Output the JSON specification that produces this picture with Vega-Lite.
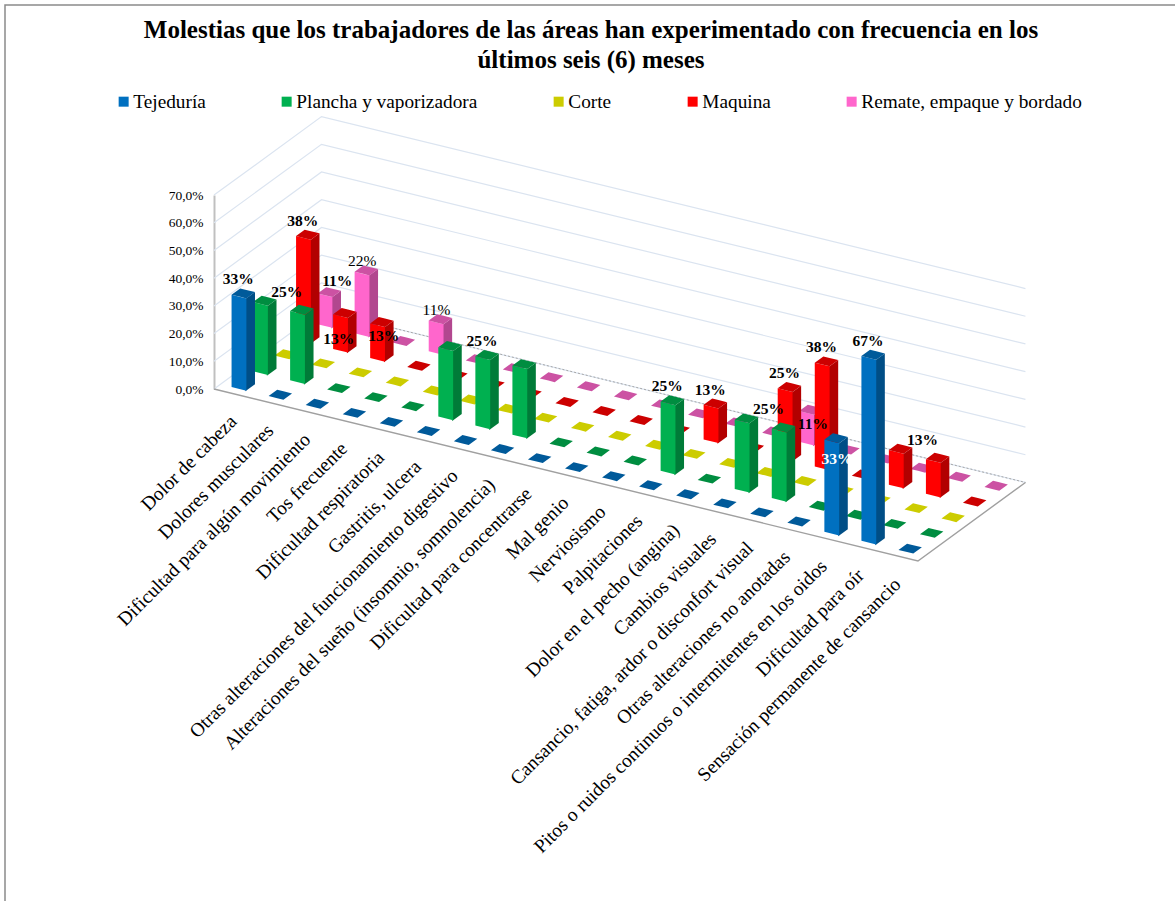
{
"$schema":"https://vega.github.io/schema/vega-lite/v6.json",
"width":1172,"height":898,"autosize":"none","padding":{"left":5,"top":5,"right":0,"bottom":0},
"background":"white",
"view":{"stroke":"#8a8a8a","strokeWidth":1.5,"fill":"white"},
"title":{"text":["Molestias que los trabajadores de las áreas han experimentado con frecuencia en los","últimos seis (6) meses"],"font":"Liberation Serif","fontSize":25,"fontWeight":"bold","color":"black","anchor":"middle","frame":"group","orient":"top","offset":0,"dy":93,"lineHeight":30,"baseline":"bottom"},
"datasets":{
"muro":[{"v":0},{"v":10},{"v":20},{"v":30},{"v":40},{"v":50},{"v":60},{"v":70}],
"filas":[
{"categoria":"Dolor de cabeza","n":1,"serie":"Remate, empaque y bordado","s":4,"v":11.1,"etiqueta":"11%"},
{"categoria":"Dolores musculares","n":2,"serie":"Remate, empaque y bordado","s":4,"v":22.2,"etiqueta":"22%"},
{"categoria":"Dificultad para algún movimiento","n":3,"serie":"Remate, empaque y bordado","s":4,"v":0},
{"categoria":"Tos frecuente","n":4,"serie":"Remate, empaque y bordado","s":4,"v":11.1,"etiqueta":"11%"},
{"categoria":"Dificultad respiratoria","n":5,"serie":"Remate, empaque y bordado","s":4,"v":0},
{"categoria":"Gastritis, ulcera","n":6,"serie":"Remate, empaque y bordado","s":4,"v":0},
{"categoria":"Otras alteraciones del funcionamiento digestivo","n":7,"serie":"Remate, empaque y bordado","s":4,"v":0},
{"categoria":"Alteraciones del sueño (insomnio, somnolencia)","n":8,"serie":"Remate, empaque y bordado","s":4,"v":0},
{"categoria":"Dificultad para concentrarse","n":9,"serie":"Remate, empaque y bordado","s":4,"v":0},
{"categoria":"Mal genio","n":10,"serie":"Remate, empaque y bordado","s":4,"v":0},
{"categoria":"Nerviosismo","n":11,"serie":"Remate, empaque y bordado","s":4,"v":0},
{"categoria":"Palpitaciones","n":12,"serie":"Remate, empaque y bordado","s":4,"v":0},
{"categoria":"Dolor en el pecho (angina)","n":13,"serie":"Remate, empaque y bordado","s":4,"v":0},
{"categoria":"Cambios visuales","n":14,"serie":"Remate, empaque y bordado","s":4,"v":11.1,"etiqueta":"11%"},
{"categoria":"Cansancio, fatiga, ardor o disconfort visual","n":15,"serie":"Remate, empaque y bordado","s":4,"v":0},
{"categoria":"Otras alteraciones no anotadas","n":16,"serie":"Remate, empaque y bordado","s":4,"v":0},
{"categoria":"Pitos o ruidos continuos o intermitentes en los oidos","n":17,"serie":"Remate, empaque y bordado","s":4,"v":0},
{"categoria":"Dificultad para oír","n":18,"serie":"Remate, empaque y bordado","s":4,"v":0},
{"categoria":"Sensación permanente de cansancio","n":19,"serie":"Remate, empaque y bordado","s":4,"v":0},
{"categoria":"Dolor de cabeza","n":1,"serie":"Maquina","s":3,"v":37.5,"etiqueta":"38%"},
{"categoria":"Dolores musculares","n":2,"serie":"Maquina","s":3,"v":12.5,"etiqueta":"13%"},
{"categoria":"Dificultad para algún movimiento","n":3,"serie":"Maquina","s":3,"v":12.5,"etiqueta":"13%"},
{"categoria":"Tos frecuente","n":4,"serie":"Maquina","s":3,"v":0},
{"categoria":"Dificultad respiratoria","n":5,"serie":"Maquina","s":3,"v":0},
{"categoria":"Gastritis, ulcera","n":6,"serie":"Maquina","s":3,"v":0},
{"categoria":"Otras alteraciones del funcionamiento digestivo","n":7,"serie":"Maquina","s":3,"v":0},
{"categoria":"Alteraciones del sueño (insomnio, somnolencia)","n":8,"serie":"Maquina","s":3,"v":0},
{"categoria":"Dificultad para concentrarse","n":9,"serie":"Maquina","s":3,"v":0},
{"categoria":"Mal genio","n":10,"serie":"Maquina","s":3,"v":0},
{"categoria":"Nerviosismo","n":11,"serie":"Maquina","s":3,"v":0},
{"categoria":"Palpitaciones","n":12,"serie":"Maquina","s":3,"v":12.5,"etiqueta":"13%"},
{"categoria":"Dolor en el pecho (angina)","n":13,"serie":"Maquina","s":3,"v":0},
{"categoria":"Cambios visuales","n":14,"serie":"Maquina","s":3,"v":25,"etiqueta":"25%"},
{"categoria":"Cansancio, fatiga, ardor o disconfort visual","n":15,"serie":"Maquina","s":3,"v":37.5,"etiqueta":"38%"},
{"categoria":"Otras alteraciones no anotadas","n":16,"serie":"Maquina","s":3,"v":0},
{"categoria":"Pitos o ruidos continuos o intermitentes en los oidos","n":17,"serie":"Maquina","s":3,"v":12.5},
{"categoria":"Dificultad para oír","n":18,"serie":"Maquina","s":3,"v":12.5,"etiqueta":"13%"},
{"categoria":"Sensación permanente de cansancio","n":19,"serie":"Maquina","s":3,"v":0},
{"categoria":"Dolor de cabeza","n":1,"serie":"Corte","s":2,"v":0},
{"categoria":"Dolores musculares","n":2,"serie":"Corte","s":2,"v":0},
{"categoria":"Dificultad para algún movimiento","n":3,"serie":"Corte","s":2,"v":0},
{"categoria":"Tos frecuente","n":4,"serie":"Corte","s":2,"v":0},
{"categoria":"Dificultad respiratoria","n":5,"serie":"Corte","s":2,"v":0},
{"categoria":"Gastritis, ulcera","n":6,"serie":"Corte","s":2,"v":0},
{"categoria":"Otras alteraciones del funcionamiento digestivo","n":7,"serie":"Corte","s":2,"v":0},
{"categoria":"Alteraciones del sueño (insomnio, somnolencia)","n":8,"serie":"Corte","s":2,"v":0},
{"categoria":"Dificultad para concentrarse","n":9,"serie":"Corte","s":2,"v":0},
{"categoria":"Mal genio","n":10,"serie":"Corte","s":2,"v":0},
{"categoria":"Nerviosismo","n":11,"serie":"Corte","s":2,"v":0},
{"categoria":"Palpitaciones","n":12,"serie":"Corte","s":2,"v":0},
{"categoria":"Dolor en el pecho (angina)","n":13,"serie":"Corte","s":2,"v":0},
{"categoria":"Cambios visuales","n":14,"serie":"Corte","s":2,"v":0},
{"categoria":"Cansancio, fatiga, ardor o disconfort visual","n":15,"serie":"Corte","s":2,"v":0},
{"categoria":"Otras alteraciones no anotadas","n":16,"serie":"Corte","s":2,"v":0},
{"categoria":"Pitos o ruidos continuos o intermitentes en los oidos","n":17,"serie":"Corte","s":2,"v":0},
{"categoria":"Dificultad para oír","n":18,"serie":"Corte","s":2,"v":0},
{"categoria":"Sensación permanente de cansancio","n":19,"serie":"Corte","s":2,"v":0},
{"categoria":"Dolor de cabeza","n":1,"serie":"Plancha y vaporizadora","s":1,"v":25},
{"categoria":"Dolores musculares","n":2,"serie":"Plancha y vaporizadora","s":1,"v":25,"etiqueta":"25%"},
{"categoria":"Dificultad para algún movimiento","n":3,"serie":"Plancha y vaporizadora","s":1,"v":0},
{"categoria":"Tos frecuente","n":4,"serie":"Plancha y vaporizadora","s":1,"v":0},
{"categoria":"Dificultad respiratoria","n":5,"serie":"Plancha y vaporizadora","s":1,"v":0},
{"categoria":"Gastritis, ulcera","n":6,"serie":"Plancha y vaporizadora","s":1,"v":25},
{"categoria":"Otras alteraciones del funcionamiento digestivo","n":7,"serie":"Plancha y vaporizadora","s":1,"v":25,"etiqueta":"25%"},
{"categoria":"Alteraciones del sueño (insomnio, somnolencia)","n":8,"serie":"Plancha y vaporizadora","s":1,"v":25},
{"categoria":"Dificultad para concentrarse","n":9,"serie":"Plancha y vaporizadora","s":1,"v":0},
{"categoria":"Mal genio","n":10,"serie":"Plancha y vaporizadora","s":1,"v":0},
{"categoria":"Nerviosismo","n":11,"serie":"Plancha y vaporizadora","s":1,"v":0},
{"categoria":"Palpitaciones","n":12,"serie":"Plancha y vaporizadora","s":1,"v":25,"etiqueta":"25%"},
{"categoria":"Dolor en el pecho (angina)","n":13,"serie":"Plancha y vaporizadora","s":1,"v":0},
{"categoria":"Cambios visuales","n":14,"serie":"Plancha y vaporizadora","s":1,"v":25},
{"categoria":"Cansancio, fatiga, ardor o disconfort visual","n":15,"serie":"Plancha y vaporizadora","s":1,"v":25,"etiqueta":"25%"},
{"categoria":"Otras alteraciones no anotadas","n":16,"serie":"Plancha y vaporizadora","s":1,"v":0},
{"categoria":"Pitos o ruidos continuos o intermitentes en los oidos","n":17,"serie":"Plancha y vaporizadora","s":1,"v":0},
{"categoria":"Dificultad para oír","n":18,"serie":"Plancha y vaporizadora","s":1,"v":0},
{"categoria":"Sensación permanente de cansancio","n":19,"serie":"Plancha y vaporizadora","s":1,"v":0},
{"categoria":"Dolor de cabeza","n":1,"serie":"Tejeduría","s":0,"v":33.3,"etiqueta":"33%"},
{"categoria":"Dolores musculares","n":2,"serie":"Tejeduría","s":0,"v":0},
{"categoria":"Dificultad para algún movimiento","n":3,"serie":"Tejeduría","s":0,"v":0},
{"categoria":"Tos frecuente","n":4,"serie":"Tejeduría","s":0,"v":0},
{"categoria":"Dificultad respiratoria","n":5,"serie":"Tejeduría","s":0,"v":0},
{"categoria":"Gastritis, ulcera","n":6,"serie":"Tejeduría","s":0,"v":0},
{"categoria":"Otras alteraciones del funcionamiento digestivo","n":7,"serie":"Tejeduría","s":0,"v":0},
{"categoria":"Alteraciones del sueño (insomnio, somnolencia)","n":8,"serie":"Tejeduría","s":0,"v":0},
{"categoria":"Dificultad para concentrarse","n":9,"serie":"Tejeduría","s":0,"v":0},
{"categoria":"Mal genio","n":10,"serie":"Tejeduría","s":0,"v":0},
{"categoria":"Nerviosismo","n":11,"serie":"Tejeduría","s":0,"v":0},
{"categoria":"Palpitaciones","n":12,"serie":"Tejeduría","s":0,"v":0},
{"categoria":"Dolor en el pecho (angina)","n":13,"serie":"Tejeduría","s":0,"v":0},
{"categoria":"Cambios visuales","n":14,"serie":"Tejeduría","s":0,"v":0},
{"categoria":"Cansancio, fatiga, ardor o disconfort visual","n":15,"serie":"Tejeduría","s":0,"v":0},
{"categoria":"Otras alteraciones no anotadas","n":16,"serie":"Tejeduría","s":0,"v":0},
{"categoria":"Pitos o ruidos continuos o intermitentes en los oidos","n":17,"serie":"Tejeduría","s":0,"v":33.3,"etiqueta":"33%"},
{"categoria":"Dificultad para oír","n":18,"serie":"Tejeduría","s":0,"v":66.7,"etiqueta":"67%"},
{"categoria":"Sensación permanente de cansancio","n":19,"serie":"Tejeduría","s":0,"v":0}
]},
"resolve":{"scale":{"y":"independent"}},
"layer":[
{"layer":[
 {"data":{"name":"muro"},
  "transform":[
   {"calculate":"[[0,0],[0,5],[19,5]]","as":"q"},{"flatten":["q"]},
   {"calculate":"214+37.05*datum.q[0]+21.5*datum.q[1]","as":"px"},
   {"calculate":"389+9.05*datum.q[0]-15.7*datum.q[1]-2.77*datum.v","as":"py"}],
  "mark":{"type":"line","color":"#dbe4f0","strokeWidth":1.2,"interpolate":"linear"},
  "encoding":{"x":{"field":"px","type":"quantitative","scale":{"domain":[5,1177],"nice":false,"zero":false},"axis":null},
   "y":{"field":"py","type":"quantitative","scale":{"domain":[5,903],"reverse":true,"nice":false,"zero":false},"axis":null},
   "detail":{"field":"v"}}},
 {"data":{"name":"muro"},
  "transform":[{"filter":"datum.v==0"},
   {"calculate":"[[0,5],[19,5]]","as":"q"},{"flatten":["q"]},
   {"calculate":"214+37.05*datum.q[0]+21.5*datum.q[1]","as":"px"},
   {"calculate":"389+9.05*datum.q[0]-15.7*datum.q[1]","as":"py"}],
  "mark":{"type":"line","color":"#a8a8a8","strokeWidth":1,"strokeDash":[2,2]},
  "encoding":{"x":{"field":"px","type":"quantitative","scale":{"domain":[5,1177],"nice":false,"zero":false},"axis":null},
   "y":{"field":"py","type":"quantitative","scale":{"domain":[5,903],"reverse":true,"nice":false,"zero":false},"axis":null}}},
 {"data":{"name":"muro"},
  "transform":[{"filter":"datum.v==0"},
   {"calculate":"[[0,0],[19,0],[19,5]]","as":"q"},{"flatten":["q"]},
   {"calculate":"214+37.05*datum.q[0]+21.5*datum.q[1]","as":"px"},
   {"calculate":"389+9.05*datum.q[0]-15.7*datum.q[1]","as":"py"}],
  "mark":{"type":"line","color":"#a0a0a0","strokeWidth":1.4},
  "encoding":{"x":{"field":"px","type":"quantitative","scale":{"domain":[5,1177],"nice":false,"zero":false},"axis":null},
   "y":{"field":"py","type":"quantitative","scale":{"domain":[5,903],"reverse":true,"nice":false,"zero":false},"axis":null}}},
 {"data":{"name":"filas"},
  "transform":[
   {"calculate":"214+37.05*(datum.n-0.7)+21.5*(datum.s+0.3)","as":"xA"},
   {"calculate":"389+9.05*(datum.n-0.7)-15.7*(datum.s+0.3)","as":"yA"},
   {"calculate":"datum.yA-2.77*datum.v","as":"t"},
   {"calculate":"['lado','frente','tapa']","as":"cara"},{"flatten":["cara"]},
   {"filter":"datum.v>0||datum.cara=='tapa'"},
   {"calculate":"datum.cara=='frente'?[[datum.xA,datum.t,datum.yA],[datum.xA+14.82,datum.t+3.62,datum.yA+3.62]]:datum.cara=='lado'?[[datum.xA+13.82,datum.t+4.35,datum.yA+4.35],[datum.xA+23.42,datum.t-2.66,datum.yA-2.66]]:[[datum.xA,datum.t,datum.t],[datum.xA+8.6,datum.t-6.28,datum.t+2.1],[datum.xA+14.82,datum.t-4.76,datum.t+3.62],[datum.xA+23.42,datum.t-2.66,datum.t-2.66]]","as":"pt"},
   {"flatten":["pt"]},
   {"calculate":"datum.pt[0]","as":"px"},{"calculate":"datum.pt[1]","as":"py"},{"calculate":"datum.pt[2]","as":"py2"},
   {"calculate":"datum.cara=='frente'?datum.serie:datum.serie+'|'+datum.cara","as":"tono"},
   {"calculate":"datum.n+'-'+datum.s+'-'+datum.cara","as":"id"}],
  "mark":{"type":"area","interpolate":"linear","opacity":1},
  "encoding":{
   "x":{"field":"px","type":"quantitative","scale":{"domain":[5,1177],"nice":false,"zero":false},"axis":null},
   "y":{"field":"py","type":"quantitative","scale":{"domain":[5,903],"reverse":true,"nice":false,"zero":false},"axis":null},
   "y2":{"field":"py2"},
   "detail":{"field":"id"},
   "color":{"field":"tono","type":"nominal",
    "scale":{"domain":["Tejeduría","Plancha y vaporizadora","Corte","Maquina","Remate, empaque y bordado","Tejeduría|lado","Plancha y vaporizadora|lado","Corte|lado","Maquina|lado","Remate, empaque y bordado|lado","Tejeduría|tapa","Plancha y vaporizadora|tapa","Corte|tapa","Maquina|tapa","Remate, empaque y bordado|tapa"],
     "range":["#0070c0","#00b050","#cccc00","#ff0000","#ff66cc","#004e86","#007b38","#8e8e00","#b20000","#b2478f","#005a9a","#008d40","#cccc00","#cc0000","#cc52a3"]},
    "legend":{"values":["Tejeduría","Plancha y vaporizadora","Corte","Maquina","Remate, empaque y bordado"],"title":null,"orient":"none","legendX":109,"legendY":87,"columns":5,"columnPadding":71,"symbolType":"square","symbolSize":100,"symbolStrokeWidth":0,"symbolOpacity":1,"labelFont":"Liberation Serif","labelFontSize":19.3,"labelColor":"black","labelOffset":0,"labelLimit":400}}}},
 {"data":{"name":"filas"},
  "transform":[
   {"filter":"datum.s==0"},
   {"calculate":"233.5+36.9*(datum.n-1)","as":"px"},
   {"calculate":"418.5+9.05*(datum.n-1)","as":"py"}],
  "mark":{"type":"text","font":"Liberation Serif","fontSize":19.4,"angle":315,"align":"right","baseline":"middle","color":"black"},
  "encoding":{"x":{"field":"px","type":"quantitative","scale":{"domain":[5,1177],"nice":false,"zero":false},"axis":null},
   "y":{"field":"py","type":"quantitative","scale":{"domain":[5,903],"reverse":true,"nice":false,"zero":false},"axis":null},
   "text":{"field":"categoria"}}},
 {"data":{"name":"filas"},
  "transform":[
   {"filter":"isValid(datum.etiqueta)"},
   {"calculate":"214+37.05*(datum.n-0.7)+21.5*(datum.s+0.3)+11.7","as":"px"},
   {"calculate":"389+9.05*(datum.n-0.7)-15.7*(datum.s+0.3)-2.77*datum.v-1.3","as":"py"},
   {"calculate":"datum.serie+'|'+datum.n","as":"clave"}],
  "encoding":{"x":{"field":"px","type":"quantitative","scale":{"domain":[5,1177],"nice":false,"zero":false},"axis":null},
   "y":{"field":"py","type":"quantitative","scale":{"domain":[5,903],"reverse":true,"nice":false,"zero":false},"axis":null},
   "text":{"field":"etiqueta"}},
  "layer":[
   {"transform":[{"filter":"indexof(['Tejeduría|1','Maquina|1','Plancha y vaporizadora|7','Plancha y vaporizadora|12','Maquina|12','Maquina|14','Maquina|15','Tejeduría|18'],datum.clave)>=0"}],
    "mark":{"type":"text","font":"Liberation Serif","fontSize":15.5,"fontWeight":"bold","color":"black","dx":-5,"dy":-14}},
   {"transform":[{"filter":"indexof(['Plancha y vaporizadora|2','Plancha y vaporizadora|15','Maquina|18'],datum.clave)>=0"}],
    "mark":{"type":"text","font":"Liberation Serif","fontSize":15.5,"fontWeight":"bold","color":"black","dx":-15,"dy":-18}},
   {"transform":[{"filter":"indexof(['Remate, empaque y bordado|2','Remate, empaque y bordado|4'],datum.clave)>=0"}],
    "mark":{"type":"text","font":"Liberation Serif","fontSize":15.5,"color":"black","dx":-4,"dy":-9}},
   {"transform":[{"filter":"datum.clave=='Remate, empaque y bordado|1'"}],
    "mark":{"type":"text","font":"Liberation Serif","fontSize":15.5,"fontWeight":"bold","color":"black","dx":8,"dy":-11}},
   {"transform":[{"filter":"datum.clave=='Maquina|2'"}],
    "mark":{"type":"text","font":"Liberation Serif","fontSize":15.5,"fontWeight":"bold","color":"black","dx":-6,"dy":26}},
   {"transform":[{"filter":"indexof(['Maquina|3','Remate, empaque y bordado|14'],datum.clave)>=0"}],
    "mark":{"type":"text","font":"Liberation Serif","fontSize":15.5,"fontWeight":"bold","color":"black","dx":2,"dy":14}},
   {"transform":[{"filter":"datum.clave=='Tejeduría|17'"}],
    "mark":{"type":"text","font":"Liberation Serif","fontSize":15.5,"fontWeight":"bold","color":"white","dx":1,"dy":21}}
  ]}
]},
{"data":{"name":"muro"},
 "mark":{"type":"rule","opacity":0},
 "encoding":{"y":{"field":"v","type":"quantitative","title":null,
   "scale":{"domain":[0,70],"range":[384,190],"nice":false,"zero":false},
   "axis":{"orient":"left","offset":-209,"values":[0,10,20,30,40,50,60,70],"grid":false,"ticks":false,"title":null,
    "labelExpr":"replace(format(datum.value,'.1f'),'.',',')+'%'","labelFont":"Liberation Serif","labelFontSize":13.5,"labelColor":"black","labelPadding":11,
    "domain":true,"domainColor":"#c0c0c0","domainWidth":2}}}}
]
}
